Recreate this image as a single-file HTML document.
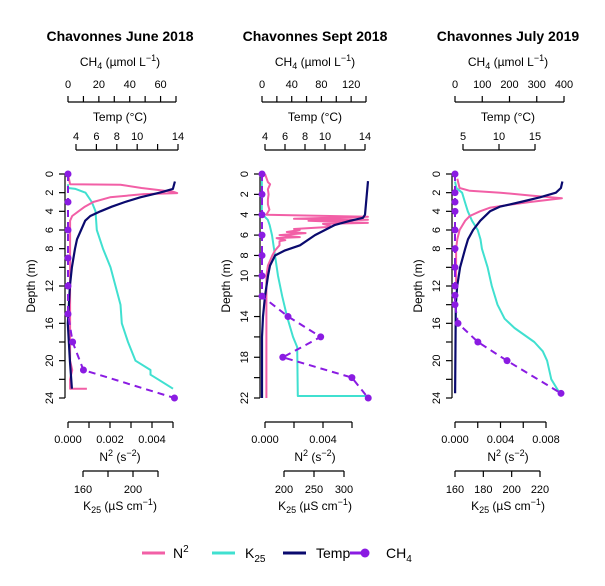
<!DOCTYPE html>
<html><head><meta charset="utf-8"><style>
html,body{margin:0;padding:0;background:#fff}
svg{display:block;font-family:"Liberation Sans",Arial,sans-serif}
</style></head><body>
<svg id="chart" width="605" height="586" viewBox="0 0 605 586" xmlns="http://www.w3.org/2000/svg">
<g id="legend" font-size="14" fill="#000">
 <g><line x1="142" y1="553" x2="165" y2="553" stroke="#f25fa6" stroke-width="3"/><text x="173" y="558">N<tspan dy="-6" font-size="10">2</tspan></text></g>
 <g><line x1="212" y1="553" x2="235" y2="553" stroke="#40e0d0" stroke-width="3"/><text x="245" y="558">K<tspan dy="4" font-size="10">25</tspan></text></g>
 <g><line x1="283" y1="553" x2="306" y2="553" stroke="#0a0a6e" stroke-width="3"/><text x="316" y="558">Temp</text></g>
 <g><line x1="350" y1="553" x2="365" y2="553" stroke="#8a1be2" stroke-width="3"/><circle cx="365" cy="553" r="4.5" fill="#8a1be2"/><text x="386" y="558">CH<tspan dy="4" font-size="10">4</tspan></text></g>
</g>
</svg>
<script>
// ---- data: panel 1 (June 2018) ----
const p1Ch4Depth=[0,3,6,9,12,15,18,21,24];
const p1Ch4=[0,0,0,0,0,0,3,10,69];
const p1TempDepth=[0.8,1.6,2.0,2.5,3,3.5,4,4.5,5,6,7,8,10,12,14,16,20,23];
const p1Temp=[13.7,13.5,12.2,10.3,8.8,7.5,6.4,5.4,4.9,4.5,4.1,3.9,3.6,3.4,3.3,3.2,3.4,3.6];
const p1N2Depth=[0,1.1,1.15,1.5,1.9,2.05,2.15,2.5,3,3.5,4,4.5,5,20,21,22,23,23];
const p1N2=[0,0.0001,0.0025,0.0035,0.0050,0.0052,0.0036,0.0020,0.0012,0.0008,0.0005,0.0002,0.0001,0.0001,0.0002,0.0001,0.0001,0.0009];
const p1KDepth=[1.1,1.5,1.6,2,3,4,6,8,10,12,14,16,18,20,21,21.5,22,23];
const p1K=[148,148,154,162,167,170,171,176,182,186,190,191,196,202,214,214,220,232];
// ---- data: panel 2 (Sept 2018) ----
const p2Ch4Depth=[0,2,4,6,8,10,12,14,16,18,20,22];
const p2Ch4=[0,0,0,0,0,0,0,35,79,28,121,143];
const p2TempDepth=[0.7,4,4.3,4.6,5,5.5,6,7,7.5,8,9,10,12,14,16,22];
const p2Temp=[14.3,14,13.8,12.5,11,10,9,7.5,6,5,4.5,4.3,4,3.8,3.7,3.7];
const p2N2Depth=[0,0.8,1,1.5,2,2.5,3,3.5,4,4.2,4.4,4.5,4.6,4.8,4.9,5.1,5.2,5.4,5.5,5.7,5.8,6,6.2,6.3,6.5,6.6,7,7.5,8,9,10,22];
const p2N2=[0,0.0002,0.00035,0.0002,0.00025,0.0002,0.0002,0.0003,0.0001,0.0071,0.002,0.0071,0.003,0.0071,0.004,0.0045,0.0045,0.002,0.0024,0.0015,0.0028,0.001,0.0024,0.0008,0.0014,0.001,0.001,0.0007,0.0005,0.0002,0.0001,0.0001];
const p2KDepth=[0,4,4.2,4.5,5,6,8,10,12,14,16,17,21.8,21.8];
const p2K=[163,163,168,173,176,180,185,190,197,205,215,222,223,340];
// ---- data: panel 3 (July 2019) ----
const p3Ch4Depth=[0,2,3,4,6,8,10,12,13,14,16,18,20,23.5];
const p3Ch4=[0,0,0,0,0,0,0,0,0,0,11,84,191,389];
const p3TempDepth=[0.8,1.5,2,2.5,3,3.5,4,5,6,7,8,10,12,14,23.5];
const p3Temp=[18.8,18.6,17.9,15.7,13,10.1,8.75,7.4,6.4,5.7,5.3,4.6,4.2,4.0,3.9];
const p3N2Depth=[0.5,1.5,1.8,2,2.3,2.6,2.8,3,3.3,3.6,4,4.5,5,6,7,8,12];
const p3N2=[0.0002,0.0004,0.0013,0.004,0.0066,0.0094,0.008,0.0066,0.0048,0.0031,0.0022,0.0013,0.0009,0.0004,0.0002,0.0001,0.0001];
const p3KDepth=[0.8,1.5,2,3,4,5,6,7,8,10,12,14,15.5,16.5,18,19,20,22,23.5];
const p3K=[160,161,165,167,169,172,176,178,179,183,186,190,195,202,216,222,225,228,234];
// ---- tick labels ----
const p1Ch4Ticks=[0,10,20,30,40,50,60,70], p1Ch4Labels=["0","20","40","60"];
const p1TempTicks=[4,6,8,10,12,14], p1TempLabels=["4","6","8","10","14"];
const p1N2Ticks=[0,0.001,0.002,0.003,0.004,0.005], p1N2Labels=["0.000","0.002","0.004"];
const p1KTicks=[160,180,200,220], p1KLabels=["160","200"];
const p1DepthTicks=[0,2,4,6,8,10,12,14,16,18,20,22,24], p1DepthLabels=["0","2","4","6","8","12","16","20","24"];
const p2Ch4Ticks=[0,20,40,60,80,100,120,140], p2Ch4Labels=["0","40","80","120"];
const p2TempTicks=[4,6,8,10,12,14], p2TempLabels=["4","6","8","10","14"];
const p2N2Ticks=[0,0.002,0.004,0.006], p2N2Labels=["0.000","0.004"];
const p2KTicks=[200,250,300], p2KLabels=["200","250","300"];
const p2DepthTicks=[0,2,4,6,8,10,12,14,16,18,20,22], p2DepthLabels=["0","2","4","6","8","10","14","18","22"];
const p3Ch4Ticks=[0,100,200,300,400], p3Ch4Labels=["0","100","200","300","400"];
const p3TempTicks=[5,10,15], p3TempLabels=["5","10","15"];
const p3N2Ticks=[0,0.002,0.004,0.006,0.008], p3N2Labels=["0.000","0.004","0.008"];
const p3KTicks=[160,180,200,220], p3KLabels=["160","180","200","220"];
const p3DepthTicks=[0,2,4,6,8,10,12,14,16,18,20,22,24], p3DepthLabels=["0","2","4","6","8","12","16","20","24"];

const NS="http://www.w3.org/2000/svg";
const svg=document.getElementById('chart');
function mk(tag,attrs,parent){const e=document.createElementNS(NS,tag);for(const k in attrs)e.setAttribute(k,attrs[k]);(parent||svg).appendChild(e);return e;}
function lin(d0,d1,r0,r1){return v=>r0+(v-d0)*(r1-r0)/(d1-d0);}

const panels=[
 {key:'june-2018',title:'Chavonnes June 2018',cx:120,yAxisX:65,depthMax:24,
  ch4:[0,70,68,176],temp:[4,14,76,178],n2:[0,0.005,68,173],k:[160,220,83,158],
  ch4D:p1Ch4Depth,ch4V:p1Ch4,tD:p1TempDepth,tV:p1Temp,nD:p1N2Depth,nV:p1N2,kD:p1KDepth,kV:p1K,
  ch4T:p1Ch4Ticks,ch4L:p1Ch4Labels,tT:p1TempTicks,tL:p1TempLabels,nT:p1N2Ticks,nL:p1N2Labels,kT:p1KTicks,kL:p1KLabels,dT:p1DepthTicks,dL:p1DepthLabels},
 {key:'sept-2018',title:'Chavonnes Sept 2018',cx:315,yAxisX:260,depthMax:22,
  ch4:[0,140,262,366],temp:[4,14,265,365],n2:[0,0.006,265,352],k:[200,300,284,344],
  ch4D:p2Ch4Depth,ch4V:p2Ch4,tD:p2TempDepth,tV:p2Temp,nD:p2N2Depth,nV:p2N2,kD:p2KDepth,kV:p2K,
  ch4T:p2Ch4Ticks,ch4L:p2Ch4Labels,tT:p2TempTicks,tL:p2TempLabels,nT:p2N2Ticks,nL:p2N2Labels,kT:p2KTicks,kL:p2KLabels,dT:p2DepthTicks,dL:p2DepthLabels},
 {key:'july-2019',title:'Chavonnes July 2019',cx:508,yAxisX:452,depthMax:24,
  ch4:[0,400,455,564],temp:[5,15,463,535],n2:[0,0.008,455,546],k:[160,220,455,540],
  ch4D:p3Ch4Depth,ch4V:p3Ch4,tD:p3TempDepth,tV:p3Temp,nD:p3N2Depth,nV:p3N2,kD:p3KDepth,kV:p3K,
  ch4T:p3Ch4Ticks,ch4L:p3Ch4Labels,tT:p3TempTicks,tL:p3TempLabels,nT:p3N2Ticks,nL:p3N2Labels,kT:p3KTicks,kL:p3KLabels,dT:p3DepthTicks,dL:p3DepthLabels}
];

function hAxis(g,name,dom,ticks,labels,y,dir,labelY){
 const s=lin(dom[0],dom[1],dom[2],dom[3]);
 const ax=mk('g',{},g);
 
 
 mk('line',{x1:s(ticks[0]),y1:y,x2:s(ticks[ticks.length-1]),y2:y,stroke:'#000','stroke-width':1.2},ax);
 ticks.forEach(t=>mk('line',{x1:s(t),y1:y,x2:s(t),y2:y+dir*6,stroke:'#000','stroke-width':1.2},ax));
 labels.forEach(l=>{const tx=mk('text',{x:s(parseFloat(l)),y:labelY,'text-anchor':'middle','font-size':11},ax);tx.textContent=l;});
}

panels.forEach(p=>{
 const g=mk('g',{});
 
 
 const t=mk('text',{x:p.cx,y:41,'text-anchor':'middle','font-size':14,'font-weight':'bold'},g);
 
 
 t.textContent=p.title;
 const ct=mk('text',{x:p.cx,y:66,'text-anchor':'middle','font-size':12},g);
 
 
 ct.innerHTML='CH<tspan dy="3" font-size="9">4</tspan><tspan dy="-3"> (µmol L</tspan><tspan dy="-5" font-size="9">−1</tspan><tspan dy="5">)</tspan>';
 hAxis(g,'ch4-axis',p.ch4,p.ch4T,p.ch4L,102,-1,88);
 const tt=mk('text',{x:p.cx,y:121,'text-anchor':'middle','font-size':12},g);
 
 
 tt.textContent='Temp (°C)';
 hAxis(g,'temp-axis',p.temp,p.tT,p.tL,150,-1,140);
 hAxis(g,'n2-axis',p.n2,p.nT,p.nL,422,1,443);
 const nt=mk('text',{x:p.cx,y:461,'text-anchor':'middle','font-size':12},g);
 
 
 nt.innerHTML='N<tspan dy="-5" font-size="9">2</tspan><tspan dy="5"> (s</tspan><tspan dy="-5" font-size="9">−2</tspan><tspan dy="5">)</tspan>';
 hAxis(g,'k25-axis',p.k,p.kT,p.kL,471,1,493);
 const kt=mk('text',{x:p.cx,y:510,'text-anchor':'middle','font-size':12},g);
 
 
 kt.innerHTML='K<tspan dy="3" font-size="9">25</tspan><tspan dy="-3"> (µS cm</tspan><tspan dy="-5" font-size="9">−1</tspan><tspan dy="5">)</tspan>';
 const ys=lin(0,p.depthMax,174,398);
 const da=mk('g',{},g);
 
 
 mk('line',{x1:p.yAxisX,y1:ys(0),x2:p.yAxisX,y2:ys(p.depthMax),stroke:'#000','stroke-width':1.2},da);
 p.dT.forEach(d=>mk('line',{x1:p.yAxisX,y1:ys(d),x2:p.yAxisX-6,y2:ys(d),stroke:'#000','stroke-width':1.2},da));
 p.dL.forEach(l=>{const v=parseFloat(l);const x=p.yAxisX-12,y=ys(v);const tx=mk('text',{x:x,y:y,'text-anchor':'middle','font-size':11,transform:`rotate(-90 ${x} ${y})`},da);tx.textContent=l;});
 const dtl=mk('text',{x:p.yAxisX-30,y:286,'text-anchor':'middle','font-size':12,transform:`rotate(-90 ${p.yAxisX-30} 286)`},g);
 
 
 dtl.textContent='Depth (m)';
 function line(name,D,V,dom,color,w,dash){
  const xs=lin(dom[0],dom[1],dom[2],dom[3]);
  const pts=D.map((d,i)=>xs(V[i]).toFixed(1)+','+ys(d).toFixed(1)).join(' ');
  const pl=mk('polyline',{points:pts,fill:'none',stroke:color,'stroke-width':w,'stroke-linejoin':'round'},g);
  if(dash)pl.setAttribute('stroke-dasharray',dash);
  
  
  return xs;
 }
 line('k25-line',p.kD,p.kV,p.k,'#40e0d0',2);
 line('n2-line',p.nD,p.nV,p.n2,'#f25fa6',2);
 line('temp-line',p.tD,p.tV,p.temp,'#0a0a6e',2.2);
 const cxs=line('ch4-line',p.ch4D,p.ch4V,p.ch4,'#8a1be2',2,'7,5');
 p.ch4D.forEach((d,i)=>{
  const c=mk('circle',{cx:cxs(p.ch4V[i]),cy:ys(d),r:3.5,fill:'#8a1be2'},g);
  
  
 });
});
</script>
</body></html>
